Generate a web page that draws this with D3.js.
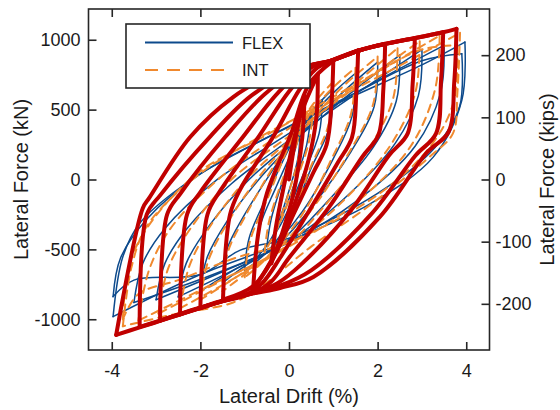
<!DOCTYPE html>
<html>
<head>
<meta charset="utf-8">
<script src="https://cdnjs.cloudflare.com/ajax/libs/d3/7.8.5/d3.min.js"></script>
<style>
  body { margin: 0; background: #fff; }
  svg text { font-family: "Liberation Sans", Arial, sans-serif; fill: #1a1a1a; }
</style>
</head>
<body>
<svg id="chart" width="560" height="410"></svg>
<script>
// axis ticks
const driftTicks = [-4, -2, 0, 2, 4];
const forceTicks = [-1000, -500, 0, 500, 1000];
const kipsTicks = [-200, -100, 0, 100, 200];
const KN_PER_KIP = 4.448;

// FLEX model loops, [drift %, force kN], one closed loop per amplitude
const flexLoops = [
  [[0.25,330],[0.2,150],[0,-80],[-0.25,-320],[-0.2,-140],[0,70],[0.25,330]],
  [[0.5,480],[0.4,250],[0.1,-50],[-0.2,-300],[-0.5,-480],[-0.4,-280],[-0.1,30],[0.2,300],[0.5,480]],
  [[0.75,570],[0.68,330],[0.3,20],[-0.2,-330],[-0.75,-570],[-0.66,-340],[-0.3,-60],[0.2,280],[0.75,570]],
  [[1.0,650],[0.92,380],[0.5,80],[0,-300],[-0.5,-520],[-1.0,-650],[-0.9,-420],[-0.5,-120],[0,220],[0.5,480],[1.0,650]],
  [[1.5,760],[1.42,450],[1.0,150],[0.3,-230],[-0.5,-520],[-1.0,-620],[-1.5,-740],[-1.4,-500],[-1.0,-250],[-0.3,100],[0.3,380],[1.0,620],[1.5,760]],
  [[2.0,840],[1.92,520],[1.4,200],[0.5,-200],[-0.3,-480],[-1.2,-640],[-2.0,-800],[-1.85,-560],[-1.4,-300],[-0.6,30],[0.3,330],[1.2,620],[2.0,840]],
  [[2.5,890],[2.42,560],[1.9,230],[0.8,-180],[0,-430],[-1.2,-640],[-2.5,-840],[-2.32,-600],[-1.8,-330],[-0.9,0],[0.2,300],[1.4,620],[2.5,890]],
  [[3.0,930],[2.92,600],[2.4,260],[1.2,-150],[0,-440],[-1.5,-660],[-3.0,-860],[-2.8,-600],[-2.3,-350],[-1.3,-30],[0,280],[1.5,610],[3.0,930]],
  [[3.5,960],[3.42,620],[2.85,240],[1.5,-160],[0,-450],[-1.8,-690],[-3.5,-880],[-3.3,-600],[-2.8,-350],[-1.7,-20],[-0.3,270],[1.5,620],[3.5,960]],
  [[3.97,983],[3.9,567],[3.26,162],[1.8,-180],[0,-440],[-2.0,-680],[-3.97,-981],[-3.75,-553],[-3.36,-310],[-2.2,0],[-0.8,250],[1.2,560],[3.0,820],[3.97,983]],
  [[3.9,900],[3.85,520],[3.3,230],[2.0,-100],[0,-420],[-1.1,-505],[-2.0,-680],[-3.5,-720],[-3.97,-838],[-3.8,-560],[-3.2,-280],[-2.0,40],[-0.5,300],[1.5,620],[3.0,850],[3.9,900]]
];

// INT model loops
const intLoops = [
  [[0.3,380],[0.22,160],[0,-90],[-0.28,-360],[-0.2,-150],[0,80],[0.3,380]],
  [[0.55,520],[0.45,270],[0.1,-60],[-0.25,-340],[-0.55,-520],[-0.45,-300],[-0.1,40],[0.25,330],[0.55,520]],
  [[1.0,700],[0.9,400],[0.45,60],[0,-320],[-0.5,-560],[-1.0,-700],[-0.88,-440],[-0.45,-110],[0,240],[0.5,520],[1.0,700]],
  [[1.5,800],[1.4,470],[0.95,140],[0.3,-250],[-0.5,-560],[-1.0,-680],[-1.5,-800],[-1.38,-520],[-0.95,-240],[-0.3,120],[0.3,410],[1.0,660],[1.5,800]],
  [[2.0,880],[1.9,540],[1.35,190],[0.5,-220],[-0.3,-510],[-1.2,-700],[-2.0,-860],[-1.82,-580],[-1.35,-290],[-0.6,50],[0.3,360],[1.2,660],[2.0,880]],
  [[2.45,940],[2.35,580],[1.8,220],[0.8,-190],[0,-460],[-1.2,-700],[-2.45,-920],[-2.25,-620],[-1.75,-320],[-0.9,20],[0.2,330],[1.4,660],[2.45,940]],
  [[2.95,990],[2.85,620],[2.3,250],[1.2,-160],[0,-470],[-1.5,-720],[-2.95,-960],[-2.72,-630],[-2.2,-340],[-1.3,0],[0,310],[1.5,660],[2.95,990]],
  [[3.4,1030],[3.3,650],[2.75,240],[1.5,-170],[0,-480],[-1.8,-760],[-3.4,-1010],[-3.15,-640],[-2.65,-340],[-1.6,0],[-0.3,300],[1.5,670],[3.4,1030]],
  [[3.86,1050],[3.8,620],[3.7,330],[3.2,170],[1.8,-190],[0.5,-480],[-0.6,-760],[-1.26,-880],[-2.6,-965],[-3.75,-1050],[-3.55,-620],[-3.2,-330],[-2.1,20],[-0.8,280],[1.2,600],[3.0,900],[3.86,1050]],
  [[3.8,960],[3.72,560],[3.2,240],[2.0,-110],[0,-450],[-1.2,-560],[-2.5,-720],[-3.4,-820],[-3.75,-1000],[-3.6,-600],[-3.1,-300],[-2.0,60],[-0.5,320],[1.5,680],[3.0,930],[3.8,960]]
];

// test record (thick red), one continuous path
const testPath = [
  [0,0],[0.15,300],[0.35,600],
  [0.3,300],[0.1,-100],[-0.15,-380],[-0.4,-600],
  [-0.3,-350],[-0.15,-100],[0.25,450],[0.65,750],
  [0.62,450],[0.45,150],[0.1,-200],[-0.3,-520],[-0.81,-790],
  [-0.7,-400],[-0.5,-100],[0.05,330],[0.45,680],[1.0,850],
  [0.96,550],[0.85,250],[0.55,50],[0.1,-250],[-0.35,-560],[-0.8,-760],[-1.49,-860],
  [-1.33,-250],[-1.1,-70],[-0.35,310],[0.25,650],[0.6,790],[0.95,850],[1.56,924],
  [1.52,620],[1.42,300],[1.1,120],[0.5,-200],[-0.2,-560],[-0.6,-740],[-1.0,-830],[-1.49,-870],[-2.0,-920],
  [-1.84,-250],[-1.55,-80],[-0.7,300],[0.0,630],[0.5,800],[0.95,850],[1.6,925],[2.17,971],
  [2.13,650],[2.02,320],[1.65,160],[0.9,-200],[0.0,-560],[-0.4,-730],[-0.8,-810],[-1.49,-868],[-2.0,-918],[-2.46,-965],
  [-2.3,-250],[-2.0,-90],[-1.05,300],[-0.25,620],[0.4,805],[0.95,850],[1.6,925],[2.2,972],[2.84,1010],
  [2.79,680],[2.68,330],[2.25,170],[1.4,-220],[0.3,-600],[-0.25,-740],[-0.8,-808],[-1.49,-866],[-2.0,-916],[-2.46,-962],[-2.91,-1010],
  [-2.75,-250],[-2.45,-100],[-1.45,300],[-0.55,610],[0.3,800],[0.95,850],[1.6,925],[2.2,972],[2.85,1012],[3.48,1054],
  [3.43,700],[3.32,330],[2.85,170],[1.85,-250],[0.5,-650],[-0.2,-760],[-0.8,-812],[-1.49,-868],[-2.0,-918],[-2.46,-964],[-2.91,-1010],[-3.37,-1055],
  [-3.21,-250],[-2.9,-110],[-1.8,300],[-0.85,600],[0.2,790],[0.95,850],[1.6,925],[2.2,972],[2.85,1012],[3.48,1054],[3.78,1078],
  [3.73,700],[3.6,340],[3.1,190],[2.05,-267],[0.55,-697],[-0.2,-776],[-0.8,-815],[-1.49,-870],[-2.0,-920],[-2.46,-966],[-2.91,-1012],[-3.37,-1058],[-3.9,-1112],
  [-3.3,-205],[-3.15,-130],[-2.23,304],[-1.26,590],[-0.28,769]
];

// cut a path wherever the drift changes direction, so peaks stay sharp
function splitAtReversals(points) {
  const branches = [];
  let current = [points[0]];
  for (let i = 1; i < points.length; i++) {
    current.push(points[i]);
    const next = points[i + 1];
    if (next && (points[i][0] - points[i - 1][0]) * (next[0] - points[i][0]) < 0) {
      branches.push(current);
      current = [points[i]];
    }
  }
  branches.push(current);
  return branches;
}

const svg = d3.select('#chart');
const plotLeft = 88.5, plotRight = 489.5, plotTop = 9, plotBottom = 350;

const x = d3.scaleLinear().domain([-4.525, 4.525]).range([plotLeft, plotRight]);
const y = d3.scaleLinear().domain([-1220, 1220]).range([plotBottom, plotTop]);
const yKips = d3.scaleLinear().domain([-1220 / KN_PER_KIP, 1220 / KN_PER_KIP]).range([plotBottom, plotTop]);

const line = d3.line()
  .x(d => x(d[0]))
  .y(d => y(d[1]))
  .curve(d3.curveCatmullRom.alpha(0.5));

const plot = svg.append('g');

function drawSeries(loops, cls, color, width, dash) {
  const branches = loops.flatMap(splitAtReversals);
  plot.selectAll(`path.${cls}`)
    .data(branches)
    .enter()
    .append('path')
    .attr('class', cls)
    .attr('d', line)
    .attr('fill', 'none')
    .attr('stroke', color)
    .attr('stroke-width', width)
    .attr('stroke-dasharray', dash)
    .attr('stroke-linejoin', 'round')
    .attr('stroke-linecap', 'round');
}

drawSeries(flexLoops, 'flex', '#0d4a8c', 1.5, null);
drawSeries(intLoops, 'int', '#f0892e', 2, '8,6');
drawSeries([testPath], 'test', '#c00000', 4, null);

// frame and axes
const axisColor = '#262626';
svg.append('rect')
  .attr('x', plotLeft).attr('y', plotTop)
  .attr('width', plotRight - plotLeft).attr('height', plotBottom - plotTop)
  .attr('fill', 'none')
  .attr('stroke', axisColor)
  .attr('stroke-width', 1.6);

function styleAxis(g) {
  g.select('.domain').remove();
  g.selectAll('.tick line').attr('stroke', axisColor).attr('stroke-width', 1.6);
  g.selectAll('.tick text').style('font-size', '18px').attr('fill', '#1a1a1a');
}

const plain = d => d.toString();

svg.append('g')
  .attr('transform', `translate(0,${plotBottom})`)
  .call(d3.axisBottom(x).tickValues(driftTicks).tickSize(-8).tickPadding(14).tickFormat(plain))
  .call(styleAxis);

svg.append('g')
  .attr('transform', `translate(0,${plotTop})`)
  .call(d3.axisTop(x).tickValues(driftTicks).tickSize(-8).tickFormat(''))
  .call(styleAxis);

svg.append('g')
  .attr('transform', `translate(${plotLeft},0)`)
  .call(d3.axisLeft(y).tickValues(forceTicks).tickSize(-8).tickPadding(8).tickFormat(plain))
  .call(styleAxis);

svg.append('g')
  .attr('transform', `translate(${plotRight},0)`)
  .call(d3.axisRight(yKips).tickValues(kipsTicks).tickSize(-8).tickPadding(6).tickFormat(plain))
  .call(styleAxis);

// axis titles
svg.append('text')
  .attr('x', x(0)).attr('y', 403)
  .attr('text-anchor', 'middle')
  .style('font-size', '20px')
  .text('Lateral Drift (%)');

svg.append('text')
  .attr('transform', `translate(28,${y(0)}) rotate(-90)`)
  .attr('text-anchor', 'middle')
  .style('font-size', '20px')
  .text('Lateral Force (kN)');

svg.append('text')
  .attr('transform', `translate(554,${y(0)}) rotate(-90)`)
  .attr('text-anchor', 'middle')
  .style('font-size', '20px')
  .text('Lateral Force (kips)');

// legend
const legend = svg.append('g');
legend.append('rect')
  .attr('x', 126).attr('y', 24)
  .attr('width', 184).attr('height', 64)
  .attr('fill', '#fff')
  .attr('stroke', axisColor)
  .attr('stroke-width', 1.6);

legend.append('line')
  .attr('x1', 145).attr('x2', 233).attr('y1', 42.5).attr('y2', 42.5)
  .attr('stroke', '#0d4a8c').attr('stroke-width', 2);
legend.append('text')
  .attr('x', 242).attr('y', 48.5)
  .style('font-size', '16.5px')
  .text('FLEX');

legend.append('line')
  .attr('x1', 145).attr('x2', 233).attr('y1', 70).attr('y2', 70)
  .attr('stroke', '#f0892e').attr('stroke-width', 2)
  .attr('stroke-dasharray', '13,9');
legend.append('text')
  .attr('x', 242).attr('y', 76)
  .style('font-size', '16.5px')
  .text('INT');
</script>
</body>
</html>
